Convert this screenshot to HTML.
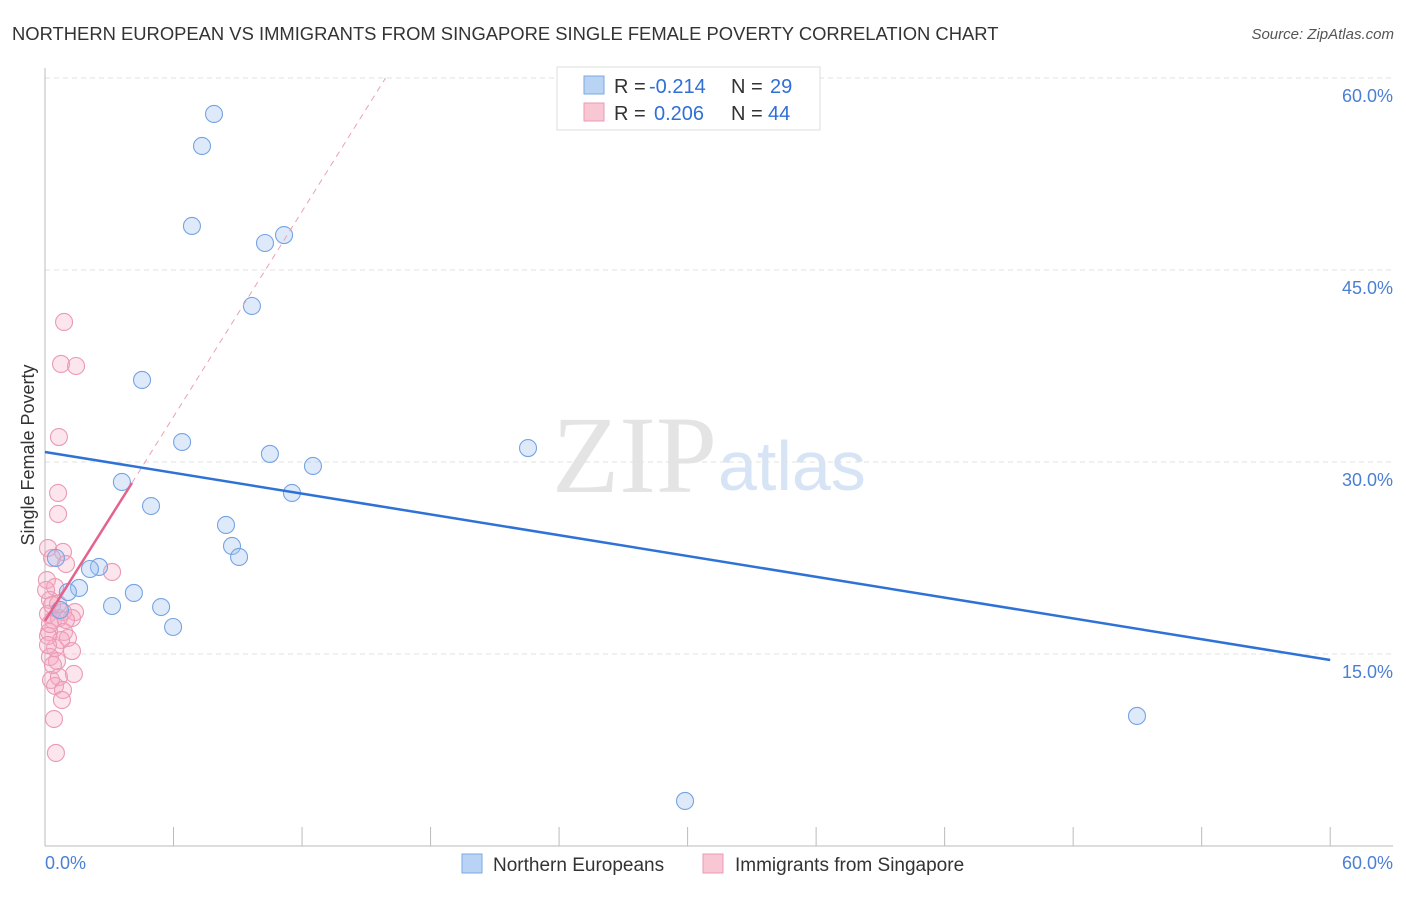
<!DOCTYPE html><html><head><meta charset="utf-8"><style>
body{margin:0;background:#fff;font-family:"Liberation Sans",sans-serif}
</style></head><body>
<svg width="1406" height="892" xmlns="http://www.w3.org/2000/svg">
<text x="12" y="40" font-size="18.4" fill="#333">NORTHERN EUROPEAN VS IMMIGRANTS FROM SINGAPORE SINGLE FEMALE POVERTY CORRELATION CHART</text>
<text x="1394" y="39" font-size="15" fill="#555" font-style="italic" text-anchor="end">Source: ZipAtlas.com</text>
<text x="552" y="492" font-size="110" fill="#e4e4e4" font-family="Liberation Serif,serif">ZIP</text>
<text x="718" y="490" font-size="70" fill="#d6e4f5">atlas</text>
<g id="grid"></g>
<line x1="45" y1="68" x2="45" y2="846" stroke="#bbb"/>
<line x1="45" y1="846" x2="1393" y2="846" stroke="#bbb"/>
<text x="34" y="455" font-size="18" fill="#333" text-anchor="middle" transform="rotate(-90 34 455)">Single Female Poverty</text>
<text x="45" y="869" font-size="18" fill="#4a7fd4">0.0%</text>
<text x="1393" y="869" font-size="18" fill="#4a7fd4" text-anchor="end">60.0%</text>
<g id="marks"></g>
<g font-size="20">
<rect x="557" y="67" width="263" height="63" fill="#fff" stroke="#ddd"/>
<rect x="584" y="76" width="20" height="18" fill="#b9d3f5" stroke="#7aa7e3"/>
<rect x="584" y="103" width="20" height="18" fill="#f9c6d4" stroke="#eb9ab3"/>
<text x="614" y="93" fill="#333">R =</text><text x="649" y="93" fill="#2f6fd6">-0.214</text>
<text x="731" y="93" fill="#333">N =</text><text x="770" y="93" fill="#2f6fd6">29</text>
<text x="614" y="120" fill="#333">R =</text><text x="654" y="120" fill="#2f6fd6">0.206</text>
<text x="731" y="120" fill="#333">N =</text><text x="768" y="120" fill="#2f6fd6">44</text>
</g>
<g>
<rect x="462" y="854" width="20" height="19" fill="#b9d3f5" stroke="#7aa7e3"/>
<text x="493" y="871" font-size="19" fill="#333">Northern Europeans</text>
<rect x="703" y="854" width="20" height="19" fill="#f9c6d4" stroke="#eb9ab3"/>
<text x="735" y="871" font-size="19" fill="#333">Immigrants from Singapore</text>
</g>
</svg>
<script>
const yTicks=[15,30,45,60];
const yTickLabels=["15.0%","30.0%","45.0%","60.0%"];
const xTicks=[0,6,12,18,24,30,36,42,48,54,60];
const blueX=[7.89,7.33,6.86,11.16,10.27,9.66,4.53,6.40,10.50,12.51,22.55,3.59,11.53,4.95,8.45,8.73,9.06,0.51,2.52,2.10,1.59,1.07,4.15,3.13,5.42,5.98,0.70,50.98,29.88];
const blueY=[57.19,54.69,48.44,47.73,47.11,42.19,36.41,31.56,30.63,29.69,31.09,28.44,27.58,26.56,25.08,23.44,22.58,22.5,21.80,21.64,20.16,19.84,19.77,18.75,18.67,17.11,18.44,10.16,3.52];
const pinkX=[0.89,0.75,1.45,0.65,0.61,0.61,0.14,0.84,0.33,0.98,3.13,0.09,0.47,0.23,0.84,1.40,1.26,0.14,0.37,0.65,0.89,1.07,0.19,0.75,0.47,1.26,0.23,0.56,1.35,0.28,0.65,0.47,0.84,0.79,0.42,0.51,0.14,0.23,0.33,0.61,0.05,0.98,0.37,0.14];
const pinkY=[40.94,37.66,37.5,31.95,27.58,25.94,23.28,22.97,22.5,22.03,21.41,20.78,20.23,19.22,18.28,18.28,17.81,18.13,17.66,17.81,16.72,16.25,16.72,16.09,15.47,15.23,14.77,14.45,13.44,12.97,13.2,12.5,12.19,11.41,9.92,7.27,16.41,17.34,18.83,18.91,20,17.66,14.14,15.7];
const blueTrend=[[0,30.78],[60,14.53]];
const pinkTrend=[[0,17.58],[4.06,28.36]];
const pinkDash=[[4.06,28.36],[15.9,60]];
const NS="http://www.w3.org/2000/svg";
const sx=v=>45+v*21.42, sy=v=>846-v*12.8;
function mk(t,a,p){const e=document.createElementNS(NS,t);for(const k in a)e.setAttribute(k,a[k]);p.appendChild(e);return e;}
const grid=document.getElementById('grid'),marks=document.getElementById('marks');
yTicks.forEach((t,i)=>{
 const l=mk('line',{x1:45,x2:1393,y1:sy(t),y2:sy(t),stroke:'#e2e2e2','stroke-dasharray':'5,4'},grid);
 
 
 const tx=mk('text',{x:1393,y:sy(t)+24,'font-size':18,fill:'#4a7fd4','text-anchor':'end'},grid);
 tx.textContent=yTickLabels[i];
 
 
});
xTicks.forEach(t=>{
 const l=mk('line',{x1:sx(t),x2:sx(t),y1:827,y2:846,stroke:'#bbb'},grid);
 
 
});
pinkX.forEach((x,i)=>{
 const c=mk('circle',{cx:sx(x),cy:sy(pinkY[i]),r:8.5,fill:'rgba(245,170,195,0.3)',stroke:'#eb9ab3','stroke-width':1.1},marks);
 
 
});
blueX.forEach((x,i)=>{
 const c=mk('circle',{cx:sx(x),cy:sy(blueY[i]),r:8.5,fill:'rgba(160,195,240,0.35)',stroke:'#75a4e2','stroke-width':1.1},marks);
 
 
});
let l=mk('line',{x1:sx(pinkDash[0][0]),y1:sy(pinkDash[0][1]),x2:sx(pinkDash[1][0]),y2:sy(pinkDash[1][1]),stroke:'#eaa0b8','stroke-dasharray':'6,5'},marks);


l=mk('line',{x1:sx(pinkTrend[0][0]),y1:sy(pinkTrend[0][1]),x2:sx(pinkTrend[1][0]),y2:sy(pinkTrend[1][1]),stroke:'#e4638c','stroke-width':2.5},marks);


l=mk('line',{x1:sx(blueTrend[0][0]),y1:sy(blueTrend[0][1]),x2:sx(blueTrend[1][0]),y2:sy(blueTrend[1][1]),stroke:'#2f72d6','stroke-width':2.5},marks);


</script>
</body></html>
